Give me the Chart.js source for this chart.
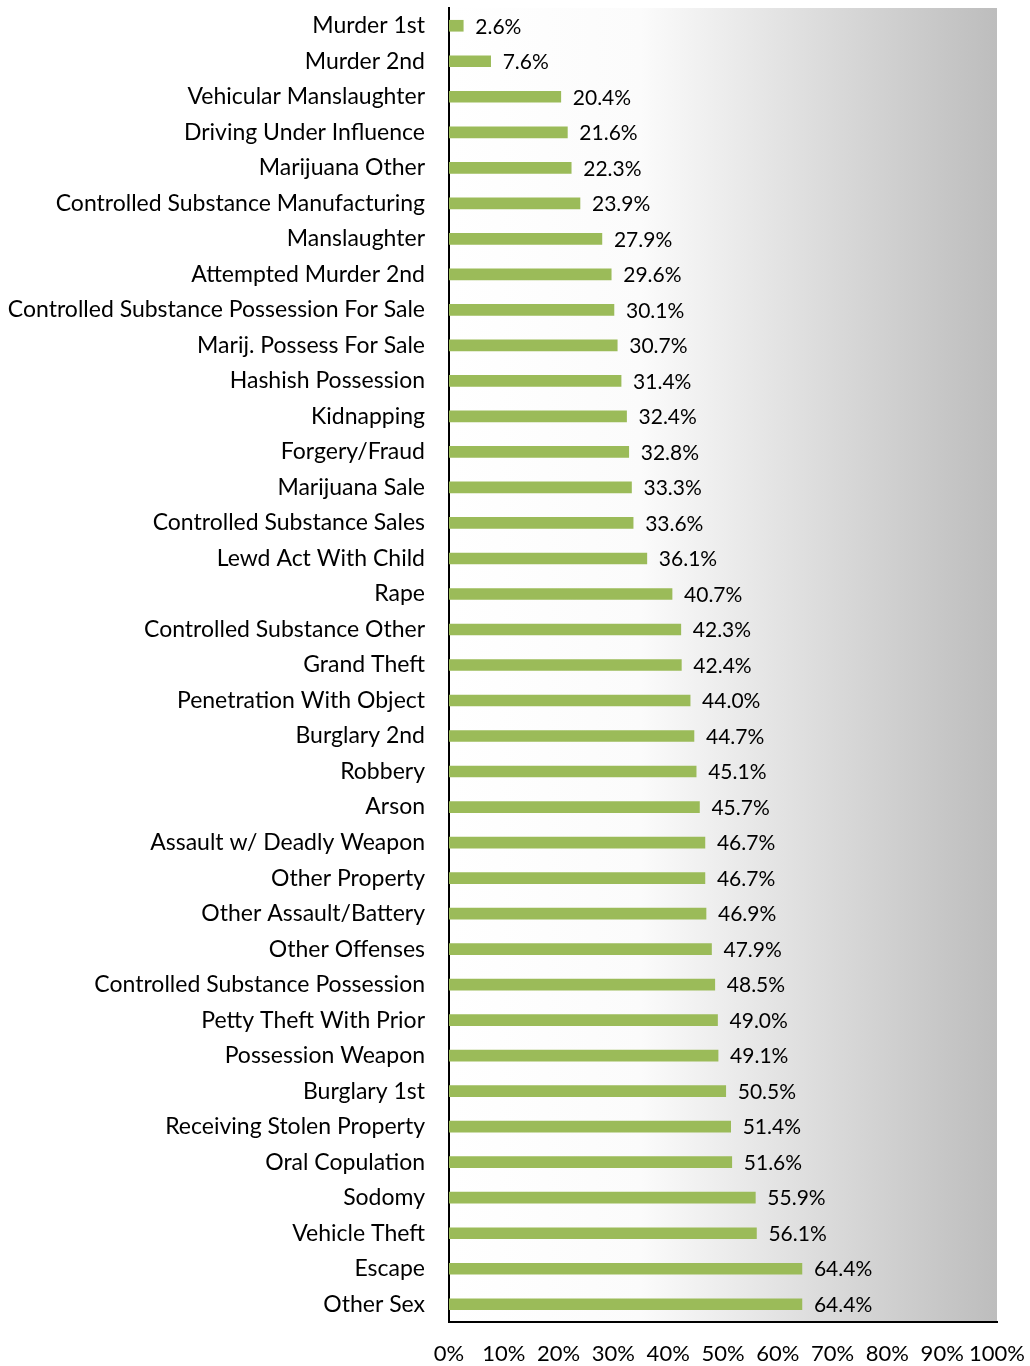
<!DOCTYPE html>
<html>
<head>
<meta charset="utf-8">
<script src="https://cdn.jsdelivr.net/npm/chart.js@4"></script>
<style>
  html, body { margin: 0; padding: 0; background: #fff; }
  #wrap { width: 1030px; height: 1366px; }
</style>
</head>
<body>
<div id="wrap"><canvas id="chart"></canvas></div>
<script>
// categories, top to bottom
const offenses = [
    "Murder 1st", "Murder 2nd", "Vehicular Manslaughter", "Driving Under Influence",
    "Marijuana Other", "Controlled Substance Manufacturing", "Manslaughter",
    "Attempted Murder 2nd", "Controlled Substance Possession For Sale",
    "Marij. Possess For Sale", "Hashish Possession", "Kidnapping", "Forgery/Fraud",
    "Marijuana Sale", "Controlled Substance Sales", "Lewd Act With Child", "Rape",
    "Controlled Substance Other", "Grand Theft", "Penetration With Object",
    "Burglary 2nd", "Robbery", "Arson", "Assault w/ Deadly Weapon", "Other Property",
    "Other Assault/Battery", "Other Offenses", "Controlled Substance Possession",
    "Petty Theft With Prior", "Possession Weapon", "Burglary 1st",
    "Receiving Stolen Property", "Oral Copulation", "Sodomy", "Vehicle Theft",
    "Escape", "Other Sex"
];
// percent values
const rates = [
    2.6, 7.6, 20.4, 21.6, 22.3, 23.9, 27.9, 29.6, 30.1, 30.7, 31.4, 32.4, 32.8,
    33.3, 33.6, 36.1, 40.7, 42.3, 42.4, 44.0, 44.7, 45.1, 45.7, 46.7, 46.7, 46.9,
    47.9, 48.5, 49.0, 49.1, 50.5, 51.4, 51.6, 55.9, 56.1, 64.4, 64.4
];
const xTicks = [0, 10, 20, 30, 40, 50, 60, 70, 80, 90, 100];

const FONT = "Lato, 'Open Sans', sans-serif";

// gradient background behind the plot area
const plotBackground = {
    id: "plotBackground",
    beforeDraw(chart) {
        const { ctx, chartArea: a } = chart;
        const g = ctx.createLinearGradient(a.left, 0, a.right, 0);
        g.addColorStop(0, "#ffffff");
        g.addColorStop(0.35, "#fbfbfb");
        g.addColorStop(1, "#bdbdbd");
        ctx.save();
        ctx.fillStyle = g;
        ctx.fillRect(a.left, a.top, a.right - a.left, a.bottom - a.top);
        ctx.restore();
    }
};

// value labels to the right of each bar
const barLabels = {
    id: "barLabels",
    afterDatasetsDraw(chart) {
        const { ctx } = chart;
        const meta = chart.getDatasetMeta(0);
        ctx.save();
        ctx.font = "21px " + FONT;
        ctx.fillStyle = "#000";
        ctx.textAlign = "left";
        ctx.textBaseline = "middle";
        meta.data.forEach((bar, i) => {
            ctx.fillText(rates[i].toFixed(1) + "%", bar.x + 12, bar.y + 1);
        });
        ctx.restore();
    }
};

new Chart(document.getElementById("chart"), {
    type: "bar",
    data: {
        labels: offenses,
        datasets: [{
            data: rates,
            backgroundColor: "#9bbb59",
            barThickness: 11
        }]
    },
    options: {
        indexAxis: "y",
        responsive: true,
        maintainAspectRatio: false,
        animation: false,
        layout: { padding: { top: 8, right: 33, left: 0, bottom: 0 } },
        plugins: {
            legend: { display: false },
            tooltip: { enabled: false }
        },
        scales: {
            x: {
                min: 0,
                max: 100,
                afterBuildTicks: scale => { scale.ticks = xTicks.map(v => ({ value: v })); },
                afterFit: scale => {
                    scale.height = 44;
                    scale.paddingLeft = 0;
                    scale.paddingRight = 0;
                },
                grid: { display: false, drawTicks: false },
                border: { display: true, color: "#000", width: 2 },
                ticks: {
                    padding: 19,
                    maxRotation: 0,
                    autoSkip: false,
                    color: "#000",
                    font: { family: FONT, size: 22 },
                    callback: v => v + "%"
                }
            },
            y: {
                afterFit: scale => {
                    scale.width = 449;
                    scale.paddingTop = 0;
                    scale.paddingBottom = 0;
                },
                grid: { display: false, drawTicks: false },
                border: { display: true, color: "#000", width: 2 },
                ticks: {
                    padding: 24,
                    autoSkip: false,
                    color: "#000",
                    font: { family: FONT, size: 23 }
                }
            }
        }
    },
    plugins: [plotBackground, barLabels]
});
</script>
</body>
</html>
